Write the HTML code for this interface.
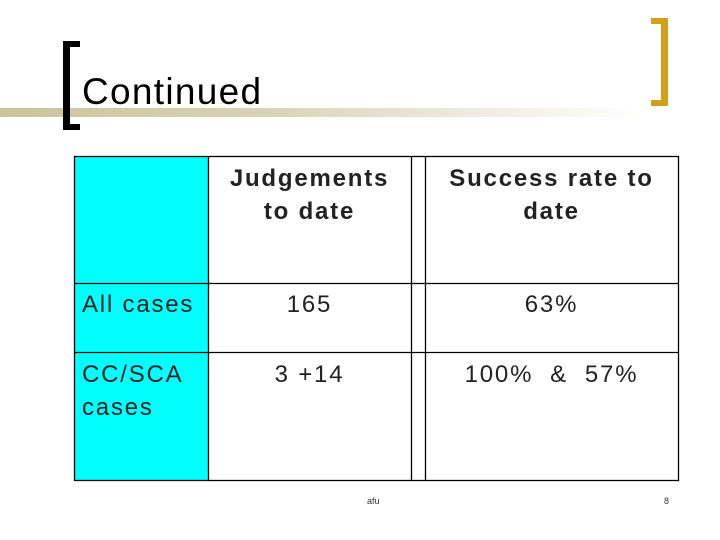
<!DOCTYPE html>
<html><head><meta charset="utf-8"><style>
body{margin:0;width:720px;height:540px;background:#fff;position:relative;overflow:hidden;font-family:"Liberation Sans",Arial,Helvetica,sans-serif}
.a{position:absolute}
.t{position:absolute;color:#222;font-size:24px;line-height:33px;letter-spacing:1.8px;font-family:"Liberation Sans",Arial,Helvetica,sans-serif}
</style></head><body>
<div class="a" style="left:0;top:108px;width:640px;height:9px;background:linear-gradient(90deg,#c9c59c 0%,#d6d3b3 40%,#fff 100%)"></div>
<div class="a" style="left:63px;top:41px;width:7px;height:89px;background:#000"></div>
<div class="a" style="left:63px;top:41px;width:17px;height:6px;background:#000"></div>
<div class="a" style="left:63px;top:124px;width:17px;height:6px;background:#000"></div>
<div class="a" style="left:661px;top:18px;width:7px;height:88px;background:#d4a017"></div>
<div class="a" style="left:651px;top:18px;width:17px;height:6px;background:#d4a017"></div>
<div class="a" style="left:651px;top:100px;width:17px;height:6px;background:#d4a017"></div>
<div class="a" style="left:82px;top:70px;font-size:37px;line-height:44px;letter-spacing:1.3px;color:#000">Continued</div>

<div class="a" style="left:74px;top:156px;width:134px;height:324px;background:#00ffff"></div>
<svg class="a" style="left:0;top:0" width="720" height="540">
<g stroke="#000" stroke-width="1.3" fill="none">
<rect x="74.5" y="156.5" width="604" height="324"/>
<line x1="208.5" y1="156" x2="208.5" y2="481"/>
<line x1="411.5" y1="156" x2="411.5" y2="481"/>
<line x1="425.5" y1="156" x2="425.5" y2="481"/>
<line x1="74" y1="283.5" x2="679" y2="283.5"/>
<line x1="74" y1="352.5" x2="679" y2="352.5"/>
</g></svg>
<div class="t" style="left:208px;width:203px;top:162px;text-align:center;font-weight:bold">Judgements<br>to date</div>
<div class="t" style="left:425px;width:253px;top:162px;text-align:center;font-weight:bold">Success rate to<br>date</div>
<div class="t" style="left:82px;top:288px">All cases</div>
<div class="t" style="left:208px;width:203px;top:288px;text-align:center">165</div>
<div class="t" style="left:425px;width:253px;top:288px;text-align:center">63%</div>
<div class="t" style="left:82px;top:358px">CC/SCA<br>cases</div>
<div class="t" style="left:208px;width:203px;top:358px;text-align:center">3 +14</div>
<div class="t" style="left:425px;width:253px;top:358px;text-align:center">100%&nbsp; &amp;&nbsp; 57%</div>
<div class="a" style="left:367px;top:496px;font-size:9px;color:#333">afu</div>
<div class="a" style="left:664px;top:496px;font-size:9px;color:#333">8</div>
</body></html>
